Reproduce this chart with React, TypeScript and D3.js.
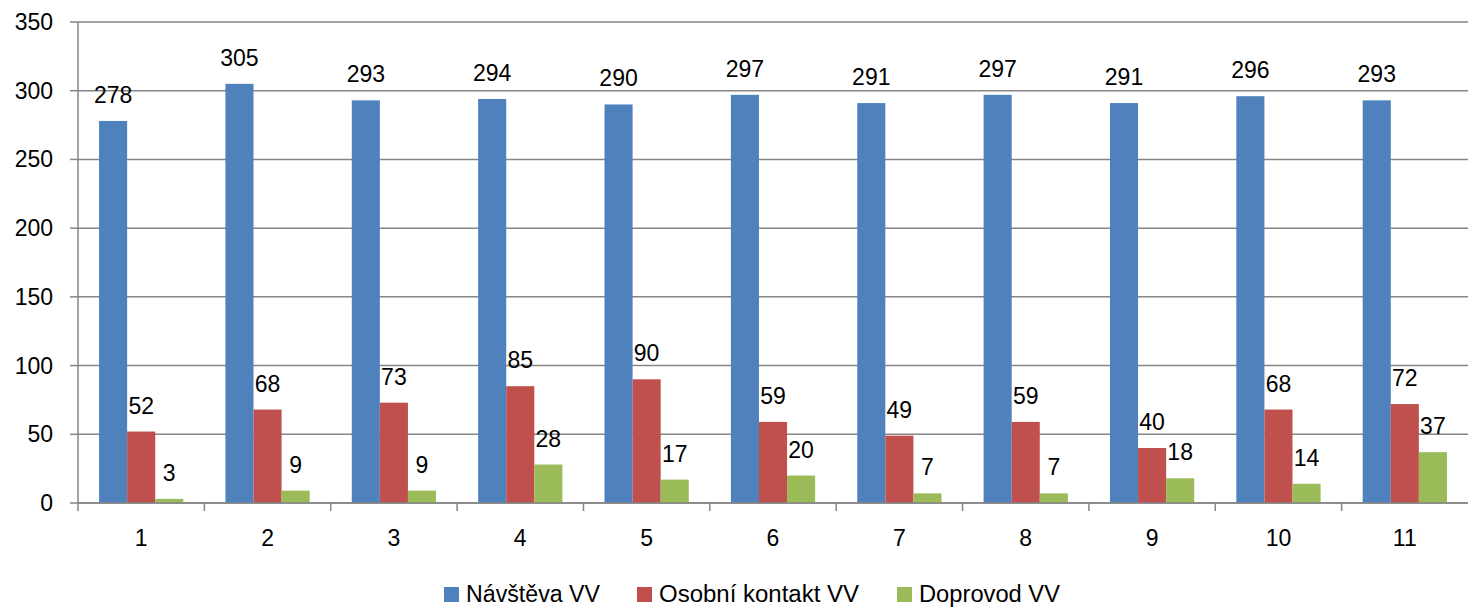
import React from 'react';
import * as d3 from 'd3';

// categories (months 1..11) and the three series
const categories = ['1', '2', '3', '4', '5', '6', '7', '8', '9', '10', '11'];
const seriesNames = ['Návštěva VV', 'Osobní kontakt VV', 'Doprovod VV'];
const navsteva = [278, 305, 293, 294, 290, 297, 291, 297, 291, 296, 293];
const kontakt = [52, 68, 73, 85, 90, 59, 49, 59, 40, 68, 72];
const doprovod = [3, 9, 9, 28, 17, 20, 7, 7, 18, 14, 37];
const yTicks = [0, 50, 100, 150, 200, 250, 300, 350];

const colors = ['#4F81BD', '#C0504D', '#9BBB59'];
const seriesValues = [navsteva, kontakt, doprovod];

const App = () => {
  const width = 1468;
  const height = 608;
  const left = 78;
  const right = 1468;
  const top = 22;
  const bottom = 503;
  const font = '"Liberation Sans", Arial, sans-serif';

  const x = d3.scaleBand<string>().domain(categories).range([left, right]).padding(0);
  const bw = x.bandwidth() / 4.5; // Excel gap width 150%
  const xs = d3
    .scaleBand<string>()
    .domain(seriesNames)
    .range([0.75 * bw, 3.75 * bw])
    .padding(0);
  const y = d3.scaleLinear().domain([0, 350]).range([bottom, top]);

  const legendItems = [
    { sx: 444, tx: 466, tw: 134 },
    { sx: 637, tx: 659, tw: 200 },
    { sx: 897, tx: 919, tw: 141 },
  ];

  return (
    <svg width={width} height={height} style={{ display: 'block', position: 'absolute', left: 0, top: 0 }}>
      <rect x={0} y={0} width={width} height={height} fill="#fff" />

      {/* gridlines + y ticks */}
      {yTicks.map(t => (
        <g key={t}>
          <line x1={left} x2={right} y1={y(t)} y2={y(t)} stroke="#868686" strokeWidth={1.5} />
          <line x1={left - 8} x2={left} y1={y(t)} y2={y(t)} stroke="#868686" strokeWidth={1.5} />
          <text x={53} y={y(t) + 8} textAnchor="end" fontSize={23} fontFamily={font} fill="#000">
            {t}
          </text>
        </g>
      ))}

      {/* y axis */}
      <line x1={left} x2={left} y1={top} y2={bottom} stroke="#868686" strokeWidth={1.5} />

      {/* bars */}
      {categories.map((c, i) => (
        <g key={c} transform={`translate(${x(c)},0)`}>
          {seriesNames.map((s, k) => {
            const v = seriesValues[k][i];
            const bx = xs(s) as number;
            return (
              <g key={s}>
                <rect x={bx} y={y(v)} width={xs.bandwidth()} height={bottom - y(v)} fill={colors[k]} />
                <text
                  x={bx + xs.bandwidth() / 2}
                  y={y(v) - 18}
                  textAnchor="middle"
                  fontSize={23}
                  fontFamily={font}
                  fill="#000"
                >
                  {v}
                </text>
              </g>
            );
          })}
        </g>
      ))}

      {/* x axis */}
      <line x1={left} x2={right} y1={bottom} y2={bottom} stroke="#868686" strokeWidth={1.5} />
      {categories.map(c => (
        <line
          key={'t' + c}
          x1={x(c) as number}
          x2={x(c) as number}
          y1={bottom}
          y2={bottom + 8}
          stroke="#868686"
          strokeWidth={1.5}
        />
      ))}
      {categories.map(c => (
        <text
          key={'l' + c}
          x={(x(c) as number) + x.bandwidth() / 2}
          y={546}
          textAnchor="middle"
          fontSize={23}
          fontFamily={font}
          fill="#000"
        >
          {c}
        </text>
      ))}

      {/* legend */}
      {seriesNames.map((s, k) => (
        <g key={'lg' + s}>
          <rect x={legendItems[k].sx} y={587} width={15} height={15} fill={colors[k]} />
          <text
            x={legendItems[k].tx}
            y={602}
            fontSize={23}
            fontFamily={font}
            fill="#000"
            textLength={legendItems[k].tw}
            lengthAdjust="spacingAndGlyphs"
          >
            {s}
          </text>
        </g>
      ))}
    </svg>
  );
};

export default App;
